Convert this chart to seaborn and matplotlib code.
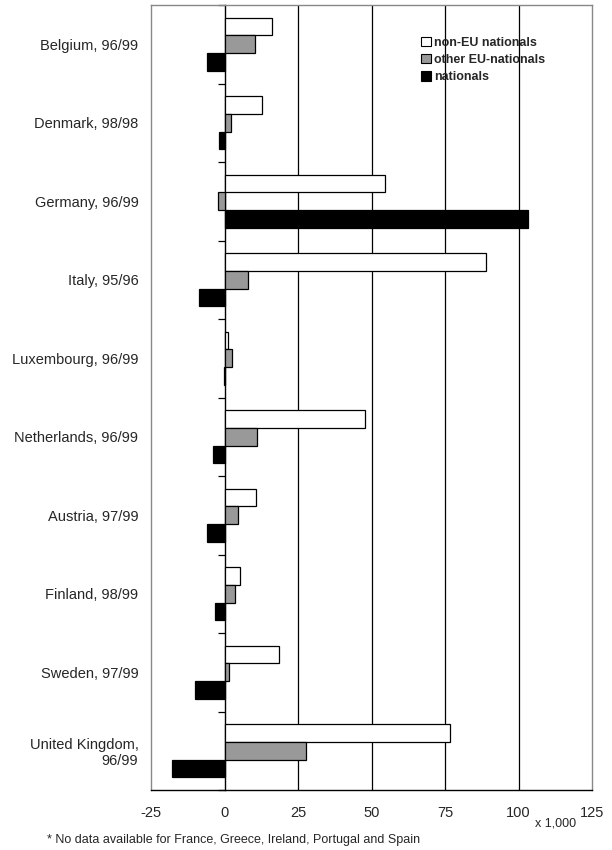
import matplotlib
matplotlib.use("Agg")
import matplotlib.pyplot as plt
import seaborn as sns
import pandas as pd
from matplotlib.patches import Patch

countries = ["Belgium, 96/99", "Denmark, 98/98", "Germany, 96/99", "Italy, 95/96",
             "Luxembourg, 96/99", "Netherlands, 96/99", "Austria, 97/99",
             "Finland, 98/99", "Sweden, 97/99", "United Kingdom,\n96/99"]
series = ["non-EU nationals", "other EU-nationals", "nationals"]
non_eu = [16.1, 12.6, 54.7, 89.0, 1.2, 47.9, 10.8, 5.2, 18.5, 76.6]
other_eu = [10.4, 2.3, -2.1, 7.9, 2.4, 11.1, 4.5, 3.6, 1.5, 27.7]
nationals = [-6.1, -2.0, 103.2, -8.7, -0.3, -4.0, -5.9, -3.1, -10.1, -18.0]
xticks = [-25, 0, 25, 50, 75, 100, 125]
colors = ["white", "#999999", "black"]

rows = []
for vals, s in zip([non_eu, other_eu, nationals], series):
    for c, v in zip(countries, vals):
        rows.append({"country": c, "value": v, "group": s})
df = pd.DataFrame(rows)

sns.set_style("white")
plt.rcParams["font.family"] = ["Liberation Sans", "DejaVu Sans"]

fig = plt.figure(figsize=(6.12, 8.5), dpi=100)
ax = fig.add_axes([151/612, 1-790/850, (592-151)/612, (790-5)/850])

for xv in xticks[2:-1]:
    ax.axvline(xv, color="black", lw=0.9, zorder=0)

sns.barplot(data=df, y="country", x="value", hue="group", orient="h",
            palette=colors, edgecolor="black", linewidth=0.9, width=0.68,
            legend=False, ax=ax, zorder=2, saturation=1)

ax.set_xlim(-25, 125)
ax.set_ylim(9.5, -0.5)
ax.set_xticks(xticks)
ax.set_xticklabels([str(t) for t in xticks], fontsize=10.5)
ax.set_xlabel("")
ax.set_ylabel("")
ax.tick_params(axis="y", length=0, pad=9, labelsize=10.5)
ax.tick_params(axis="x", direction="inout", length=6, width=0.9, color="black", pad=8.5)

for s in ["left", "top", "right"]:
    ax.spines[s].set_color("#888888")
    ax.spines[s].set_linewidth(1.0)
ax.spines["bottom"].set_color("black")
ax.spines["bottom"].set_linewidth(1.0)

sec = ax.secondary_yaxis(1/6)
sec.set_yticks([i - 0.5 for i in range(11)])
sec.set_yticklabels([])
sec.tick_params(axis="y", direction="out", length=5, width=0.9, color="black")
sec.spines["left"].set_color("black")
sec.spines["left"].set_linewidth(1.0)

handles = [Patch(facecolor=c, edgecolor="black", linewidth=0.8) for c in colors]
leg = ax.legend(handles, series, loc="upper left", bbox_to_anchor=(0.6, 0.966),
                frameon=False, handlelength=0.8, handleheight=0.8,
                handletextpad=0.25, labelspacing=0.4, borderaxespad=0,
                prop={"weight": "bold", "size": 9})

fig.text(556/612, 1-823/850, "x 1,000", fontsize=9, ha="center", va="center")
fig.text(47/612, 1-840/850, "* No data available for France, Greece, Ireland, Portugal and Spain",
         fontsize=9, ha="left", va="center")

fig.savefig("out.png", dpi=100)
